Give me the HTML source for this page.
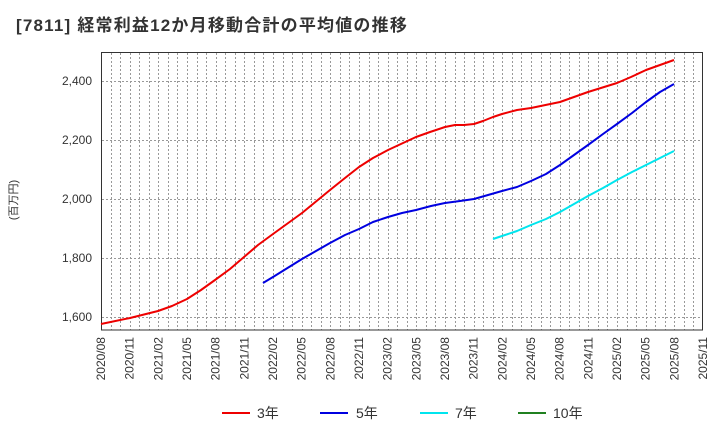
<!DOCTYPE html>
<html><head><meta charset="utf-8"><style>
body{margin:0;background:#fff;}
svg text{font-family:"Liberation Sans","Noto Sans CJK JP",sans-serif;}
</style></head><body>
<svg width="720" height="440" xmlns="http://www.w3.org/2000/svg">
<text x="16" y="31" font-size="17" font-weight="bold" fill="#333" letter-spacing="1.2">[7811]  経常利益12か月移動合計の平均値の推移</text>
<g stroke="#999" stroke-width="1" stroke-dasharray="2,2" fill="none">
<path id="vg" d=""/>
</g>
<rect x="101.5" y="52.5" width="601" height="277.5" fill="none" stroke="#333" stroke-width="1"/>
<g font-size="12" fill="#333" text-anchor="end">
<text x="92" y="85">2,400</text><text x="92" y="144">2,200</text><text x="92" y="203">2,000</text><text x="92" y="262">1,800</text><text x="92" y="321">1,600</text>
</g>
<text transform="translate(17,200) rotate(-90)" font-size="11" fill="#333" text-anchor="middle">(百万円)</text>
<g id="xl" font-size="12" fill="#333"></g>
<g fill="none" stroke-width="2" stroke-linejoin="round">
<polyline stroke="#e00" points="101,324 130,318 158,311 172,306 187,299 201,290 215,280 230,269 244,257 258,245 273,234 302,213 330,190 345,178 359,167 373,158 388,150 416,137 430,132 445,127 455,125 464,125 474,124 483,121 493,117 502,114 517,110 531,108 560,102 574,97 588,92 617,83 631,77 646,70 660,65 674,60"/>
<polyline stroke="#0000e0" points="263,283 273,277 302,259 316,251 330,243 345,235 359,229 373,222 388,217 402,213 416,210 431,206 445,203 460,201 474,199 488,195 502,191 517,187 531,181 546,174 560,165 574,155 588,145 603,134 617,124 632,113 646,102 660,92 674,84"/>
<polyline stroke="#00e5ee" points="493,239 502,236 517,231 531,225 546,219 560,212 574,204 588,196 603,188 617,180 632,172 646,165 660,158 674,151"/>
</g>
<g font-size="14" fill="#333">
<line x1="222" y1="413" x2="250" y2="413" stroke="#e00" stroke-width="2"/><text x="257" y="418">3年</text>
<line x1="320" y1="413" x2="348" y2="413" stroke="#0000e0" stroke-width="2"/><text x="356" y="418">5年</text>
<line x1="420" y1="413" x2="448" y2="413" stroke="#00e5ee" stroke-width="2"/><text x="455" y="418">7年</text>
<line x1="518" y1="413" x2="546" y2="413" stroke="#208020" stroke-width="2"/><text x="553" y="418">10年</text>
</g>
<script>
var ns="http://www.w3.org/2000/svg",d="";
for(var i=1;i<63;i++){var x=Math.round(101+i*9.556)+0.5;d+="M"+x+" 53V330";}
[81,140,199,258,317].forEach(function(y){d+="M102 "+(y+0.5)+"H702";});
document.getElementById('vg').setAttribute('d',d);
var xl=document.getElementById('xl'),m=8,yr=2020;
for(var k=0;k<22;k++){var x=101+k*3*9.556;var t=document.createElementNS(ns,'text');
t.setAttribute('transform','translate('+(x+4)+',337) rotate(-90)');t.setAttribute('text-anchor','end');
t.textContent=yr+"/"+(m<10?"0"+m:m);xl.appendChild(t);m+=3;if(m>12){m-=12;yr++;}}
</script>
</svg>
</body></html>
